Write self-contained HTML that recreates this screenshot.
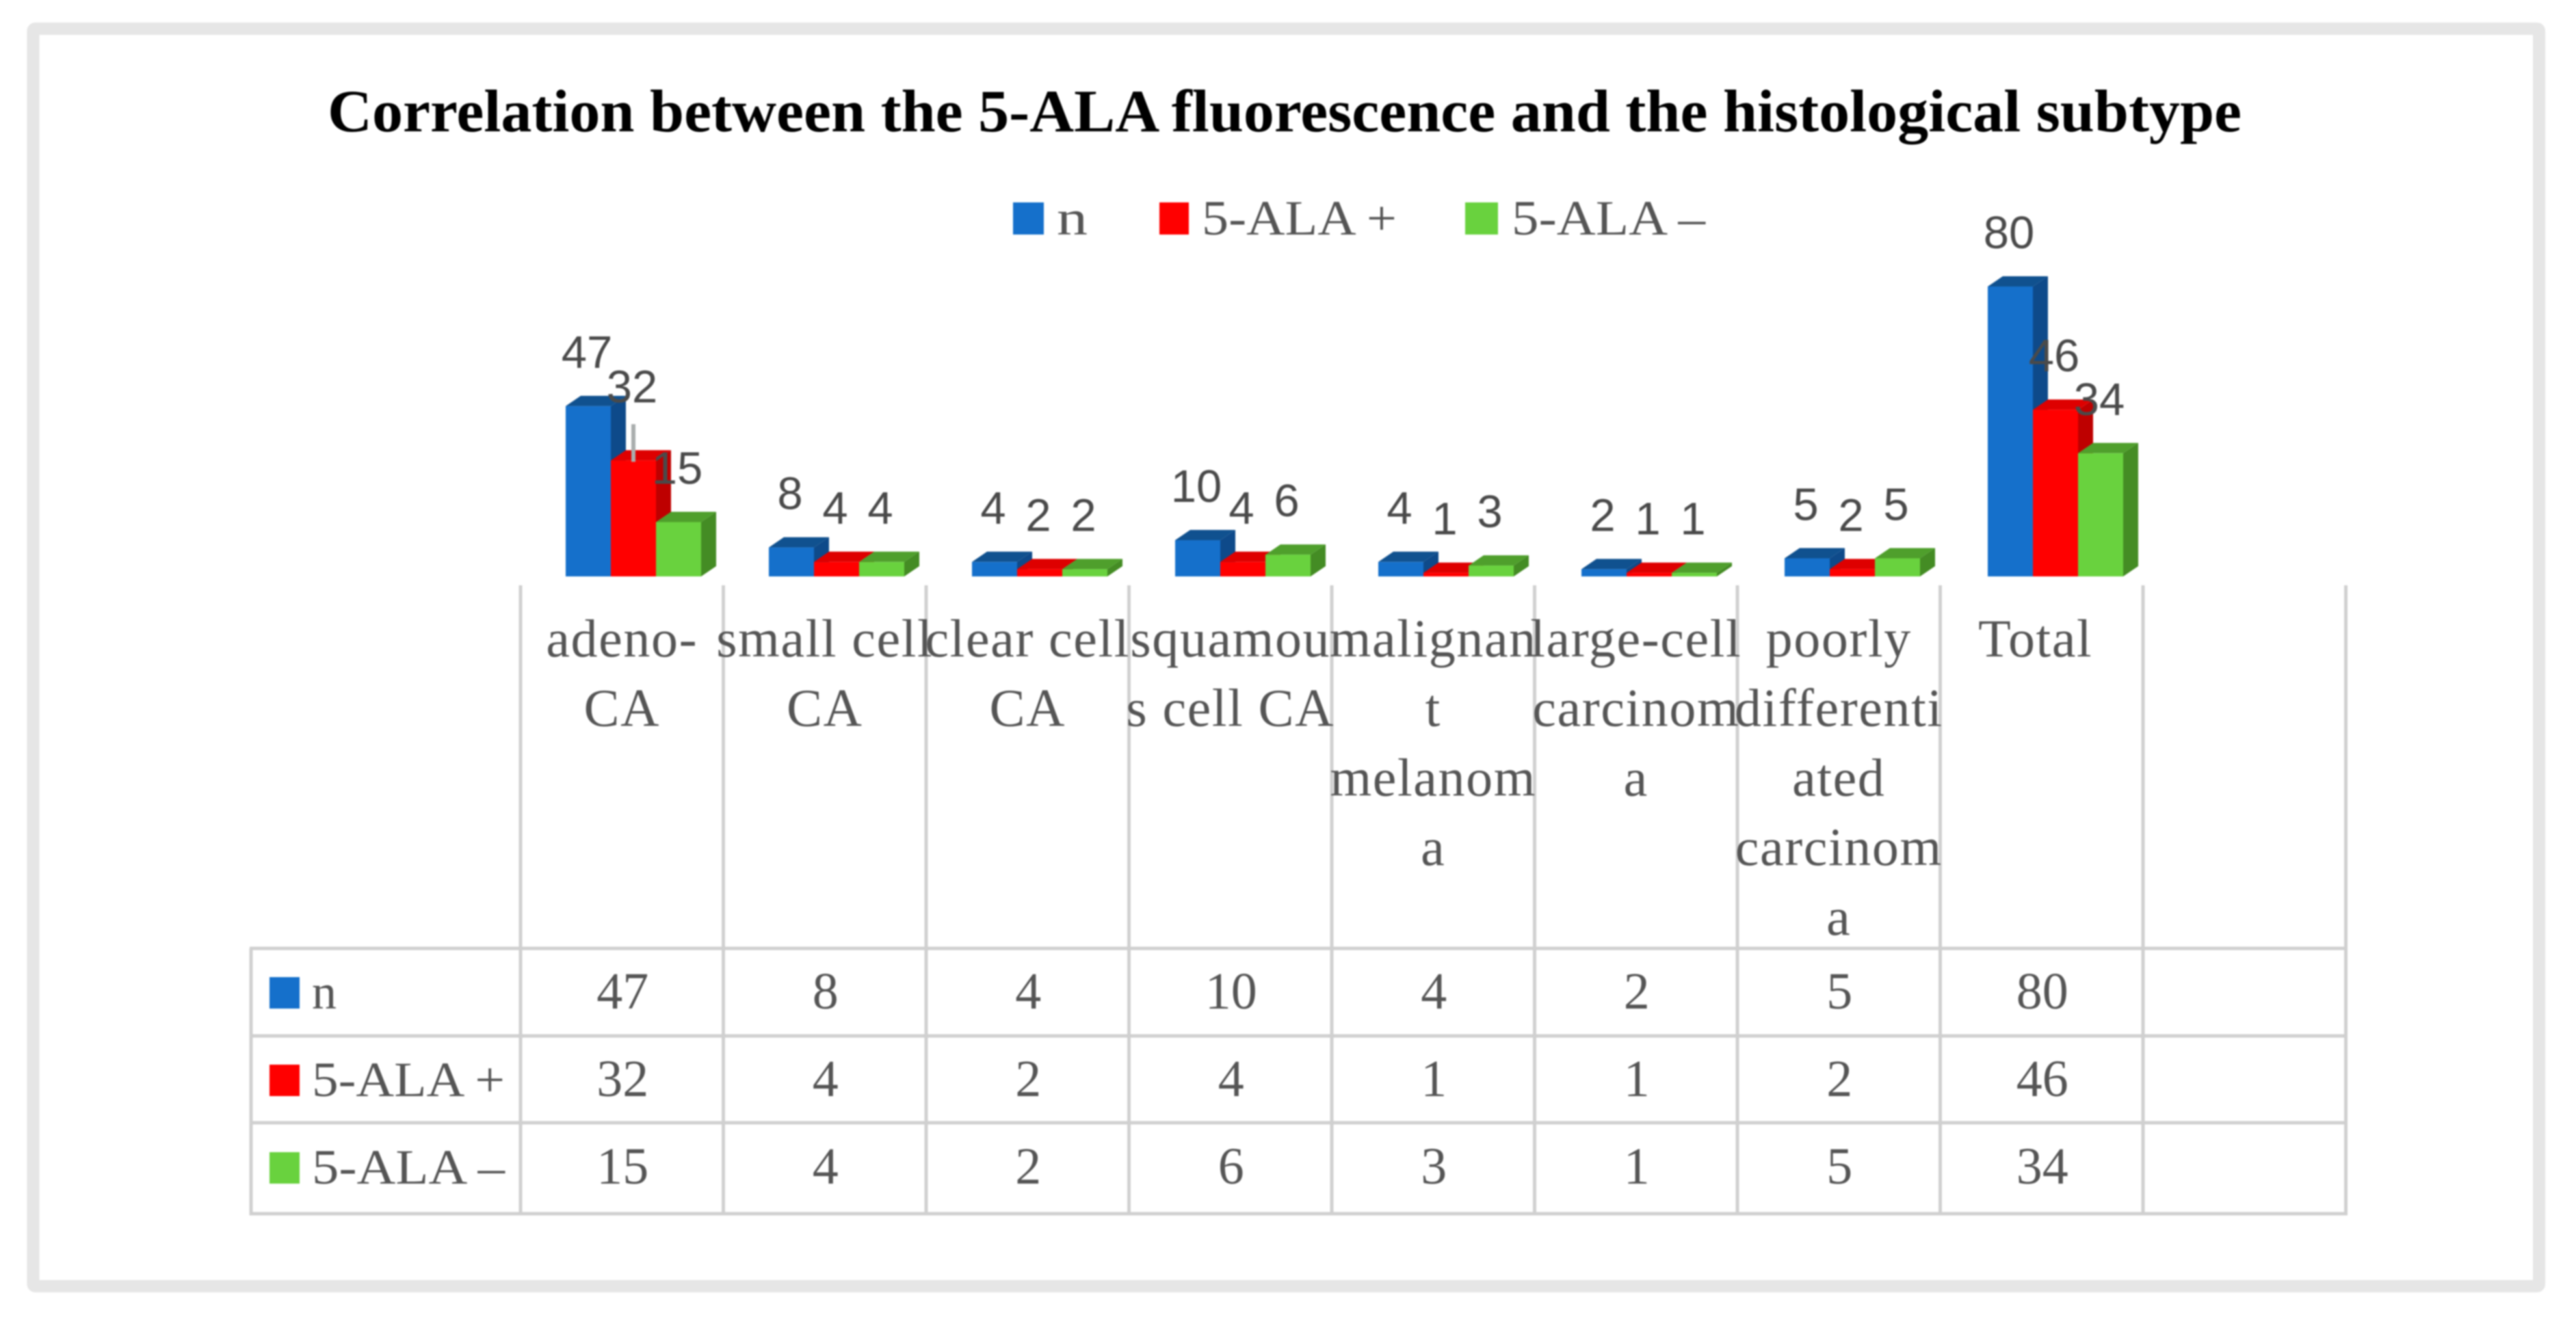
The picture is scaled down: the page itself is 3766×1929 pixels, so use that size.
<!DOCTYPE html>
<html lang="en">
<head>
<meta charset="utf-8">
<title>Correlation between the 5-ALA fluorescence and the histological subtype</title>
<style>
html,body{margin:0;padding:0;background:#fff;width:3766px;height:1929px;overflow:hidden}
svg{display:block;filter:blur(1.1px)}
.serif{font-family:"Liberation Serif",serif;fill:#555}
.cat{font-size:78px;letter-spacing:1.6px;text-anchor:middle}
.cell{font-size:76px;text-anchor:middle}
.rowhead{font-size:72px}
.leg{font-size:72px}
.lab{font-family:"Liberation Sans",sans-serif;font-size:67px;fill:#4a4a4a;text-anchor:middle}
</style>
</head>
<body>
<svg id="chart" xmlns="http://www.w3.org/2000/svg" width="3766" height="1929" viewBox="0 0 3766 1929">
  <rect x="48.5" y="42" width="3663.5" height="1839" fill="#fff" stroke="#e6e6e6" stroke-width="18" rx="3"/>
  <text x="479" y="192" textLength="2798" lengthAdjust="spacingAndGlyphs" font-family="'Liberation Serif',serif" font-weight="700" font-size="88" fill="#000">Correlation between the 5-ALA fluorescence and the histological subtype</text>
  <g>
    <rect x="1481" y="296" width="45" height="47" fill="#1570CB"/>
    <text class="serif leg" x="1545" y="343" textLength="45" lengthAdjust="spacingAndGlyphs">n</text>
    <rect x="1695" y="296" width="43" height="47" fill="#FF0000"/>
    <text class="serif leg" x="1757" y="343" textLength="285" lengthAdjust="spacingAndGlyphs">5-ALA +</text>
    <rect x="2142" y="296" width="48" height="47" fill="#69D23E"/>
    <text class="serif leg" x="2210" y="343" textLength="283" lengthAdjust="spacingAndGlyphs">5-ALA –</text>
  </g>
  <g id="bars"></g>
  <g id="leaders"></g>
  <g id="labels"></g>
  <g id="grid"></g>
  <g id="cats"></g>
  <g id="table"></g>
</svg>
<script>
const categories = [
  ["adeno-", "CA"],
  ["small cell", "CA"],
  ["clear cell", "CA"],
  ["squamou", "s cell CA"],
  ["malignan", "t", "melanom", "a"],
  ["large-cell", "carcinom", "a"],
  ["poorly", "differenti", "ated", "carcinom", "a"],
  ["Total"]
];
const seriesNames = ["n", "5-ALA +", "5-ALA –"];
const seriesN = [47, 8, 4, 10, 4, 2, 5, 80];
const seriesPositive = [32, 4, 2, 4, 1, 1, 2, 46];
const seriesNegative = [15, 4, 2, 6, 3, 1, 5, 34];
const allSeries = [seriesN, seriesPositive, seriesNegative];

const frontColors = ["#1570CB", "#FF0000", "#69D23E"];
const topColors = ["#10518F", "#DE0000", "#4F9F2C"];
const sideColors = ["#0E4A8A", "#BE0000", "#448C24"];

const NS = "http://www.w3.org/2000/svg";
const BASE_Y = 843, UNIT = 5.3, GROUP_X = 827, GROUP_STEP = 297, BAR_W = 66, DX = 22, DY = 15;
const COL_X = 761, COL_STEP = 296.5;
const yOf = v => BASE_Y - v * UNIT;
const barX = (c, s) => GROUP_X + c * GROUP_STEP + s * BAR_W;
const colX = c => COL_X + c * COL_STEP;
const colMid = c => colX(c) + COL_STEP / 2;

function make(tag, parent, attrs, text) {
  const el = document.createElementNS(NS, tag);
  for (const k in attrs) el.setAttribute(k, attrs[k]);
  if (text !== undefined) el.textContent = text;
  parent.appendChild(el);
  return el;
}

const barsG = document.getElementById("bars");
const labelsG = document.getElementById("labels");
const leadersG = document.getElementById("leaders");

categories.forEach((_, c) => {
  allSeries.forEach((values, s) => {
    const v = values[c];
    const x = barX(c, s), y = yOf(v), x2 = x + BAR_W;
    const side = make("polygon", barsG, {
      points: `${x2},${y} ${x2 + DX},${y - DY} ${x2 + DX},${BASE_Y - DY} ${x2},${BASE_Y}`,
      fill: sideColors[s]
    });
    
    
    const top = make("polygon", barsG, {
      points: `${x},${y} ${x + DX},${y - DY} ${x2 + DX},${y - DY} ${x2},${y}`,
      fill: topColors[s]
    });
    
    
    const front = make("rect", barsG, {
      x: x, y: y, width: BAR_W, height: BASE_Y - y,
      fill: frontColors[s]
    });
    
    

    // The 32 label was dragged clear of its bar in the original and carries a leader line.
    const lifted = (c === 0 && s === 1);
    const labelY = yOf(v) - 56 - (lifted ? 29 : 0);
    const lab = make("text", labelsG, {
      x: x + BAR_W / 2 - 2, y: labelY, class: "lab"
    }, String(v));
    
    
    if (lifted) {
      const lead = make("line", leadersG, {
        x1: x + BAR_W / 2, y1: labelY + 32, x2: x + BAR_W / 2, y2: y + 2,
        stroke: "#a9adad", "stroke-width": 6
      });
      
      
    }
  });
});

/* table grid */
const gridG = document.getElementById("grid");
const GRID_TOP = 856, TABLE_LEFT = 367, ROW_Y = [1387, 1515, 1642, 1775];
const lineStyle = { stroke: "#d0d0d0", "stroke-width": 5 };
for (let i = 0; i <= categories.length + 1; i++) {
  const ln = make("line", gridG, Object.assign({
    x1: colX(i), x2: colX(i), y1: GRID_TOP, y2: ROW_Y[3] + 2
  }, lineStyle));
  
  
}
const tableRight = colX(categories.length + 1);
ROW_Y.forEach(ry => {
  const ln = make("line", gridG, Object.assign({
    x1: TABLE_LEFT - 2, x2: tableRight + 2, y1: ry, y2: ry
  }, lineStyle));
  
  
});
const leftEdge = make("line", gridG, Object.assign({
  x1: TABLE_LEFT, x2: TABLE_LEFT, y1: ROW_Y[0], y2: ROW_Y[3] + 2
}, lineStyle));



/* category labels */
const catsG = document.getElementById("cats");
const CAT_BASE = 960, CAT_STEP = 101.7;
categories.forEach((lines, c) => {
  lines.forEach((line, i) => {
    const t = make("text", catsG, {
      x: colMid(c) - (lines.length === 1 ? 9 : 0), y: CAT_BASE + i * CAT_STEP, class: "serif cat"
    }, line);
    
    
  });
});

/* data table rows */
const tableG = document.getElementById("table");
const ROW_BASE = [1475, 1603, 1731];
allSeries.forEach((values, s) => {
  const sw = make("rect", tableG, {
    x: 394, y: ROW_BASE[s] - 46, width: 44, height: 46, fill: frontColors[s]
  });
  
  
  const head = make("text", tableG, {
    x: 456, y: ROW_BASE[s], class: "serif rowhead"
  }, seriesNames[s]);
  if (s > 0) {
    head.setAttribute("textLength", "282");
    head.setAttribute("lengthAdjust", "spacingAndGlyphs");
  }
  
  
  values.forEach((v, c) => {
    const cell = make("text", tableG, {
      x: colMid(c) + 1, y: ROW_BASE[s], class: "serif cell"
    }, String(v));
    
    
  });
});
</script>
</body>
</html>
